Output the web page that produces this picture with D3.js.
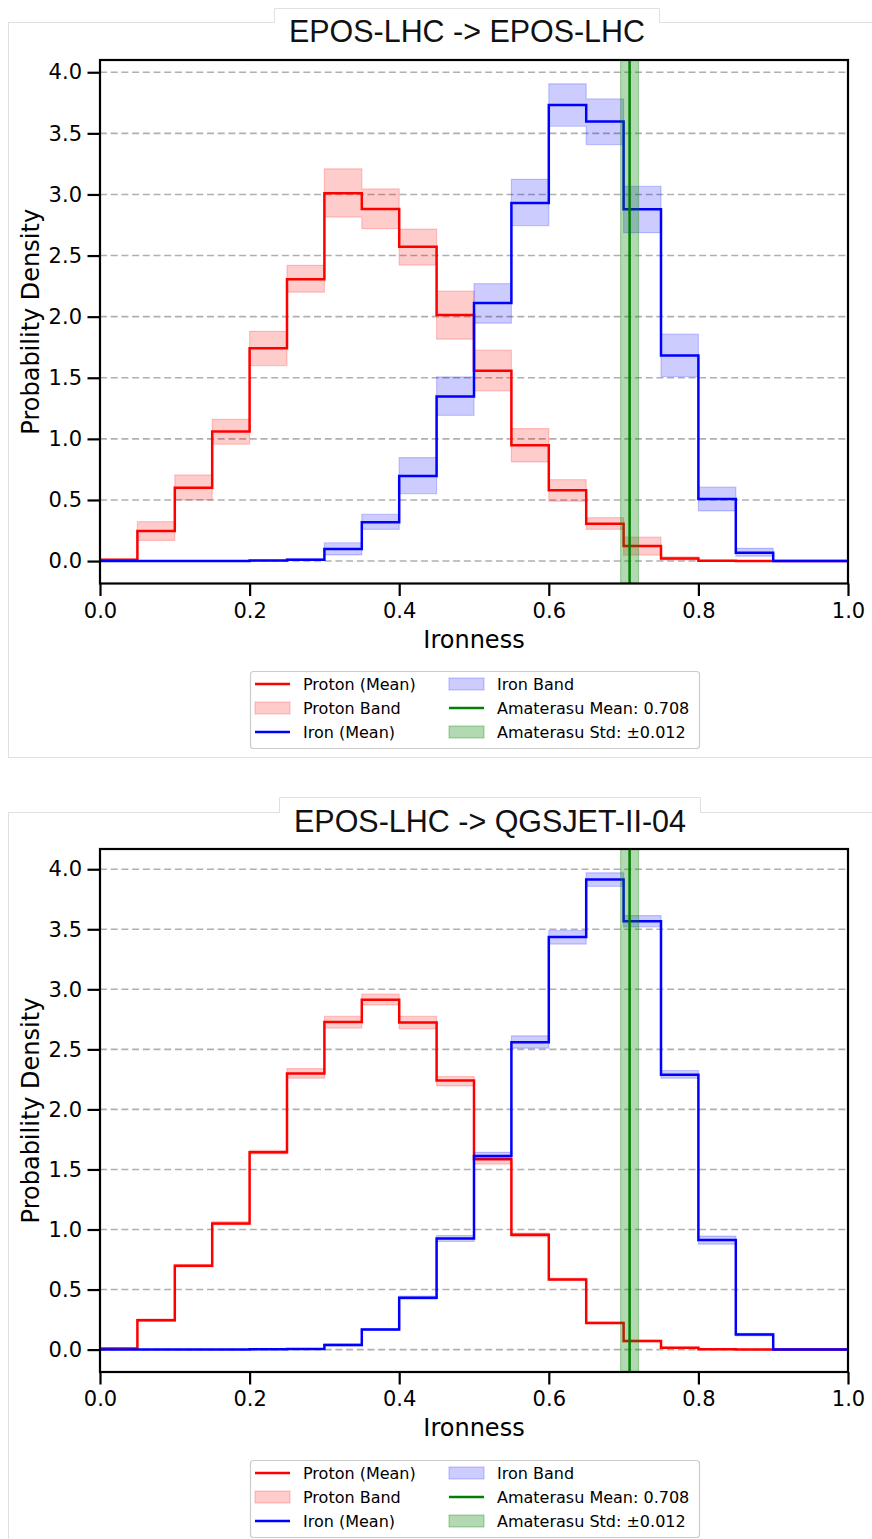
<!DOCTYPE html>
<html>
<head>
<meta charset="utf-8">
<script src="https://cdn.jsdelivr.net/npm/d3@7"></script>
<style>
  html, body { margin: 0; padding: 0; background: #ffffff; }
  svg { display: block; }
</style>
</head>
<body>
<div id="chart"></div>
<script>
// ---------------- DATA ----------------
const binLefts = [0.00,0.05,0.10,0.15,0.20,0.25,0.30,0.35,0.40,0.45,0.50,0.55,0.60,0.65,0.70,0.75,0.80,0.85,0.90,0.95];
const xTickValues = [0.0,0.2,0.4,0.6,0.8,1.0];
const yTickValues = [0.0,0.5,1.0,1.5,2.0,2.5,3.0,3.5,4.0];
const chartTitles = ["EPOS-LHC -> EPOS-LHC", "EPOS-LHC -> QGSJET-II-04"];
const legendLabels = ["Proton (Mean)", "Proton Band", "Iron (Mean)", "Iron Band", "Amaterasu Mean: 0.708", "Amaterasu Std: \u00b10.012"];
const amaterasuMean = 0.708;
const amaterasuStd = 0.012;

// Chart A: EPOS-LHC -> EPOS-LHC
const protonMeanA = [0.010,0.246,0.600,1.060,1.742,2.307,3.009,2.880,2.572,2.013,1.557,0.948,0.579,0.306,0.123,0.022,0.003,0,0,0];
const protonLowA  = [0.005,0.169,0.500,0.956,1.600,2.200,2.815,2.720,2.422,1.816,1.393,0.811,0.490,0.260,0.049,0.010,0.000,0,0,0];
const protonHighA = [0.015,0.322,0.705,1.160,1.880,2.420,3.210,3.045,2.717,2.210,1.726,1.084,0.666,0.355,0.197,0.035,0.006,0,0,0];
const ironMeanA   = [0,0,0,0,0.005,0.011,0.098,0.317,0.696,1.346,2.111,2.930,3.733,3.597,2.879,1.682,0.508,0.068,0,0];
const ironLowA    = [0,0,0,0,0.000,0.005,0.050,0.260,0.552,1.193,1.947,2.744,3.558,3.408,2.687,1.510,0.410,0.040,0,0];
const ironHighA   = [0,0,0,0,0.008,0.020,0.150,0.382,0.847,1.507,2.270,3.124,3.905,3.782,3.067,1.857,0.606,0.104,0,0];

// Chart B: EPOS-LHC -> QGSJET-II-04
const protonMeanB = [0.010,0.245,0.698,1.051,1.643,2.300,2.727,2.913,2.724,2.240,1.584,0.956,0.584,0.222,0.072,0.015,0.003,0,0,0];
const protonLowB  = [0.005,0.235,0.688,1.040,1.630,2.260,2.677,2.870,2.670,2.196,1.545,0.940,0.575,0.215,0.065,0.010,0.000,0,0,0];
const protonHighB = [0.015,0.255,0.708,1.065,1.660,2.340,2.774,2.960,2.774,2.274,1.600,0.970,0.595,0.230,0.080,0.020,0.006,0,0,0];
const ironMeanB   = [0,0,0,0,0.002,0.005,0.039,0.167,0.431,0.926,1.612,2.560,3.436,3.914,3.566,2.288,0.912,0.125,0,0];
const ironLowB    = [0,0,0,0,0.000,0.002,0.030,0.160,0.420,0.900,1.584,2.510,3.377,3.858,3.519,2.260,0.878,0.115,0,0];
const ironHighB   = [0,0,0,0,0.004,0.008,0.048,0.175,0.445,0.950,1.643,2.613,3.490,3.970,3.614,2.324,0.945,0.135,0,0];

// ---------------- LAYOUT ----------------
const W = 872, H = 1539;
const FONT = "'DejaVu Sans', Verdana, sans-serif";
const svg = d3.select("#chart").append("svg").attr("width", W).attr("height", H);

const layouts = [
  { panelTop: 22, panelBottom: 757, tab: [274, 660, 8], titleW: 356,
    plotTop: 60, plotBottom: 583.5, legendTop: 671,
    pm: protonMeanA, pl: protonLowA, ph: protonHighA, im: ironMeanA, il: ironLowA, ih: ironHighA },
  { panelTop: 812, panelBottom: 1600, tab: [279, 701, 797], titleW: 392,
    plotTop: 849, plotBottom: 1372, legendTop: 1460,
    pm: protonMeanB, pl: protonLowB, ph: protonHighB, im: ironMeanB, il: ironLowB, ih: ironHighB }
];

const plotLeft = 100, plotRight = 848;
const RED = "#ff0000", BLUE = "#0000ff", GREEN = "#008000";

layouts.forEach((L, k) => {
  const g = svg.append("g");

  // panel border
  g.append("rect").attr("x", 8.5).attr("y", L.panelTop + 0.5)
    .attr("width", 900).attr("height", L.panelBottom - L.panelTop)
    .attr("fill", "none").attr("stroke", "#e0e0e0").attr("stroke-width", 1);
  // title tab
  const [tx0, tx1, ty0] = L.tab;
  g.append("rect").attr("x", tx0).attr("y", ty0).attr("width", tx1 - tx0).attr("height", L.panelTop - ty0 + 2)
    .attr("fill", "#ffffff");
  g.append("path")
    .attr("d", `M${tx0 + 0.5},${L.panelTop + 1}V${ty0 + 0.5}H${tx1 - 0.5}V${L.panelTop + 1}`)
    .attr("fill", "none").attr("stroke", "#e0e0e0").attr("stroke-width", 1);
  g.append("text")
    .attr("x", (tx0 + tx1) / 2).attr("y", L.panelTop + 20)
    .attr("text-anchor", "middle")
    .attr("font-family", "'Liberation Sans', Arial, sans-serif")
    .attr("font-size", 31)
    .attr("textLength", L.titleW).attr("lengthAdjust", "spacingAndGlyphs")
    .attr("fill", "#111")
    .text(chartTitles[k]);

  // scales
  const allVals = [].concat(L.pm, L.ph, L.im, L.ih);
  const maxV = d3.max(allVals);
  const x = d3.scaleLinear().domain([0, 1]).range([plotLeft, plotRight]);
  const y = d3.scaleLinear().domain([-0.047 * maxV, 1.05 * maxV]).range([L.plotBottom, L.plotTop]);

  const clipId = "clip" + k;
  svg.append("clipPath").attr("id", clipId).append("rect")
    .attr("x", plotLeft).attr("y", L.plotTop).attr("width", plotRight - plotLeft).attr("height", L.plotBottom - L.plotTop);

  // grid
  g.append("g").selectAll("line").data(yTickValues).join("line")
    .attr("x1", plotLeft).attr("x2", plotRight)
    .attr("y1", d => y(d)).attr("y2", d => y(d))
    .attr("stroke", "#b0b0b0").attr("stroke-width", 1.6).attr("stroke-dasharray", "7,3.7");

  const plot = g.append("g").attr("clip-path", `url(#${clipId})`);

  const stepPts = v => binLefts.map((b, i) => [b, v[i]]).concat([[1.0, v[v.length - 1]]]);
  const bandPts = (lo, hi) => binLefts.map((b, i) => [b, lo[i], hi[i]]).concat([[1.0, lo[lo.length - 1], hi[hi.length - 1]]]);

  const line = d3.line().x(d => x(d[0])).y(d => y(d[1])).curve(d3.curveStepAfter);
  const area = d3.area().x(d => x(d[0])).y0(d => y(d[1])).y1(d => y(d[2])).curve(d3.curveStepAfter);

  // proton band + mean
  plot.append("path").attr("d", area(bandPts(L.pl, L.ph)))
    .attr("fill", "rgba(255,0,0,0.2)").attr("stroke", "rgba(255,0,0,0.2)").attr("stroke-width", 1.2);
  plot.append("path").attr("d", line(stepPts(L.pm)))
    .attr("fill", "none").attr("stroke", RED).attr("stroke-width", 2.5);
  // iron band + mean
  plot.append("path").attr("d", area(bandPts(L.il, L.ih)))
    .attr("fill", "rgba(0,0,255,0.2)").attr("stroke", "rgba(0,0,255,0.2)").attr("stroke-width", 1.2);
  plot.append("path").attr("d", line(stepPts(L.im)))
    .attr("fill", "none").attr("stroke", BLUE).attr("stroke-width", 2.5);

  // amaterasu span + line
  plot.append("rect")
    .attr("x", x(amaterasuMean - amaterasuStd)).attr("y", L.plotTop)
    .attr("width", x(amaterasuMean + amaterasuStd) - x(amaterasuMean - amaterasuStd))
    .attr("height", L.plotBottom - L.plotTop)
    .attr("fill", "rgba(0,128,0,0.3)").attr("stroke", "rgba(0,128,0,0.3)").attr("stroke-width", 1.2);
  plot.append("line")
    .attr("x1", x(amaterasuMean)).attr("x2", x(amaterasuMean))
    .attr("y1", L.plotTop).attr("y2", L.plotBottom)
    .attr("stroke", GREEN).attr("stroke-width", 2.5);

  // axes
  const xAxis = d3.axisBottom(x).tickValues(xTickValues).tickFormat(d3.format(".1f")).tickSize(12.5).tickPadding(7);
  const yAxis = d3.axisLeft(y).tickValues(yTickValues).tickFormat(d3.format(".1f")).tickSize(12.5).tickPadding(5.5);
  const xa = g.append("g").attr("transform", `translate(0,${L.plotBottom})`).call(xAxis);
  const ya = g.append("g").attr("transform", `translate(${plotLeft},0)`).call(yAxis);
  [xa, ya].forEach(a => {
    a.select(".domain").remove();
    a.selectAll(".tick line").attr("stroke", "#000").attr("stroke-width", 2.2);
    a.selectAll(".tick text").attr("font-family", FONT).attr("font-size", 21).attr("fill", "#000");
  });

  // spines
  g.append("rect").attr("x", plotLeft).attr("y", L.plotTop)
    .attr("width", plotRight - plotLeft).attr("height", L.plotBottom - L.plotTop)
    .attr("fill", "none").attr("stroke", "#000").attr("stroke-width", 2.2);

  // axis labels
  g.append("text").attr("x", (plotLeft + plotRight) / 2).attr("y", L.plotBottom + 64)
    .attr("text-anchor", "middle").attr("font-family", FONT).attr("font-size", 24).attr("fill", "#000")
    .text("Ironness");
  g.append("text")
    .attr("transform", `translate(39,${(L.plotTop + L.plotBottom) / 2}) rotate(-90)`)
    .attr("text-anchor", "middle").attr("font-family", FONT).attr("font-size", 24).attr("fill", "#000")
    .text("Probability Density");

  // legend
  const lx = 250, lw = 449, lh = 77, ly = L.legendTop;
  const lg = g.append("g");
  lg.append("rect").attr("x", lx + 0.5).attr("y", ly + 0.5).attr("width", lw).attr("height", lh)
    .attr("rx", 3).attr("fill", "rgba(255,255,255,0.8)").attr("stroke", "#cccccc").attr("stroke-width", 1.2);
  const items = [
    { type: "line", color: RED, col: 0, row: 0 },
    { type: "band", fill: "rgba(255,0,0,0.2)", col: 0, row: 1 },
    { type: "line", color: BLUE, col: 0, row: 2 },
    { type: "band", fill: "rgba(0,0,255,0.2)", col: 1, row: 0 },
    { type: "line", color: GREEN, col: 1, row: 1 },
    { type: "band", fill: "rgba(0,128,0,0.3)", col: 1, row: 2 }
  ];
  const colX = [255, 449];
  items.forEach((it, i) => {
    const hx = colX[it.col], cy = ly + 13 + it.row * 24;
    if (it.type === "line") {
      lg.append("line").attr("x1", hx).attr("x2", hx + 35).attr("y1", cy).attr("y2", cy)
        .attr("stroke", it.color).attr("stroke-width", 2.5);
    } else {
      lg.append("rect").attr("x", hx).attr("y", cy - 6).attr("width", 35).attr("height", 12)
        .attr("fill", it.fill).attr("stroke", it.fill).attr("stroke-width", 1.2);
    }
    lg.append("text").attr("x", hx + 48).attr("y", cy).attr("dy", "0.35em")
      .attr("font-family", FONT).attr("font-size", 16).attr("fill", "#000")
      .text(legendLabels[i]);
  });
});
</script>
</body>
</html>
